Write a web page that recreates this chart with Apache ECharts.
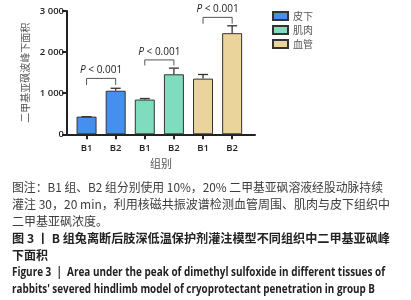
<!DOCTYPE html>
<html>
<head>
    <meta charset="utf-8"/>
    <title>二甲基亚砜峰下面积</title>
    <script src="https://cdn.jsdelivr.net/npm/echarts@6/dist/echarts.min.js"></script>
    <style>
        body { margin: 0; background: #fff; }
        #wrap { position: relative; width: 411px; height: 300px; overflow: hidden; }
        #echart1 { position: absolute; left: 0; top: 0; width: 411px; height: 300px; }
        #note { position: absolute; left: 12px; top: 178px; font-family: "Noto Sans CJK SC"; font-size: 12px; line-height: 17px; color: #3c3c3c; }
        #note div { white-space: nowrap; transform-origin: 0 50%; width: max-content; }
        .t { color: #222; font-weight: bold; }
        .en { color: #222; font-weight: bold; font-family: "Open Sans"; font-size: 12.5px; }
    </style>
</head>
<body>
<div id="wrap">
    <div id="echart1"></div>
    <div id="note">
        <div data-w="371">图注：B1 组、B2 组分别使用 10%，20% 二甲基亚砜溶液经股动脉持续</div>
        <div data-w="378">灌注 30，20 min，利用核磁共振波谱检测血管周围、肌肉与皮下组织中</div>
        <div>二甲基亚砜浓度。</div>
        <div class="t" data-w="378">图 3 丨 B 组兔离断后肢深低温保护剂灌注模型不同组织中二甲基亚砜峰</div>
        <div class="t">下面积</div>
        <div class="en" data-w="373">Figure 3&nbsp; |&nbsp; Area under the peak of dimethyl sulfoxide in different tissues of</div>
        <div class="en" data-w="363">rabbits' severed hindlimb model of cryoprotectant penetration in group B</div>
    </div>
</div>
<script>
    // 数据
    var categories = ['B1', 'B2', 'B1', 'B2', 'B1', 'B2'];
    var groupNames = ['皮下', '肌肉', '血管'];
    var groupColors = ['#4590ee', '#7fdcbf', '#ebd49c'];
    var meanValues = [430, 1060, 845, 1460, 1355, 2460];
    var errValues = [0, 60, 25, 150, 100, 180];
    var yTicks = [0, 1000, 2000, 3000];
    var pLabels = ['P < 0.001', 'P < 0.001', 'P < 0.001'];
    var bracketPairs = [[0, 1], [2, 3], [4, 5]];
    var bracketTop = [1360, 1810, 2845];
    var bracketLeg = [1200, 1675, 2690];

    // 图注每行压缩到原图宽度
    document.querySelectorAll('#note div[data-w]').forEach(function (el) {
        var w = el.getBoundingClientRect().width;
        el.style.transform = 'scaleX(' + (Number(el.getAttribute('data-w')) / w) + ')';
    });

    var barSeries = groupNames.map(function (name, g) {
        return {
            name: name,
            type: 'bar',
            xAxisIndex: 1,
            yAxisIndex: 1,
            barWidth: 20,
            barGap: '-100%',
            itemStyle: { color: groupColors[g], borderColor: '#333', borderWidth: 1 },
            data: meanValues.map(function (v, i) {
                return Math.floor(i / 2) === g ? v : null;
            })
        };
    });

    var errData = meanValues.map(function (v, i) { return [i, v, errValues[i]]; });
    var bracketData = bracketPairs.map(function (p, k) {
        return [p[0], p[1], bracketTop[k], bracketLeg[k], k];
    });

    var tickFont = { fontFamily: 'Open Sans', fontSize: 9.5, fontWeight: 600, color: '#222' };

    var Myechart1 = echarts.init(document.getElementById('echart1'));
    var option1 = {
        animation: false,
        legend: {
            orient: 'vertical',
            left: 272,
            top: 11,
            padding: 0,
            itemWidth: 15,
            itemHeight: 8,
            itemGap: 4,
            icon: 'rect',
            textStyle: { fontFamily: 'Noto Sans CJK SC', fontSize: 10, color: '#555' },
            data: groupNames
        },
        grid: [
            { left: 67, right: 156, top: 11, bottom: 165.7 },
            { left: 72, right: 164.3, top: 11, bottom: 165.7 }
        ],
        xAxis: [{
            type: 'value',
            gridIndex: 0,
            min: 0,
            max: 1,
            name: '组别',
            nameLocation: 'middle',
            nameGap: 24,
            nameTextStyle: { fontFamily: 'Noto Sans CJK SC', fontSize: 11, color: '#555' },
            splitLine: { show: false },
            axisTick: { show: false },
            axisLabel: { show: false },
            axisLine: { show: true, lineStyle: { color: '#222', width: 2 } }
        }, {
            type: 'category',
            gridIndex: 1,
            data: categories,
            axisLine: { show: false },
            axisTick: { show: true, alignWithLabel: true, length: 5, lineStyle: { color: '#222', width: 2 } },
            axisLabel: Object.assign({ margin: 9 }, tickFont)
        }],
        yAxis: [{
            type: 'value',
            gridIndex: 0,
            min: 0,
            max: 3000,
            interval: 1000,
            name: '二甲基亚砜波峰下面积',
            nameLocation: 'middle',
            nameGap: 37,
            nameTextStyle: { fontFamily: 'Noto Sans CJK SC', fontSize: 10, color: '#555' },
            splitLine: { show: false },
            axisLine: { show: true, lineStyle: { color: '#222', width: 2 } },
            axisTick: { show: true, length: 5, lineStyle: { color: '#222', width: 2 } },
            axisLabel: Object.assign({
                margin: 3,
                formatter: function (v) {
                    return yTicks.indexOf(v) < 0 ? '' : (v >= 1000 ? Math.floor(v / 1000) + ' ' + String(v % 1000 + 1000).slice(1) : String(v));
                }
            }, tickFont)
        }, {
            type: 'value',
            gridIndex: 1,
            min: 0,
            max: 3000,
            interval: 1000,
            show: false
        }],
        series: barSeries.concat([{
            type: 'custom',
            name: 'err',
            xAxisIndex: 1,
            yAxisIndex: 1,
            clip: false,
            z: 5,
            data: errData,
            renderItem: function (params, api) {
                var top = api.coord([api.value(0), api.value(1) + api.value(2)]);
                var base = api.coord([api.value(0), api.value(1)]);
                var st = { stroke: '#333', lineWidth: 1.3 };
                return {
                    type: 'group',
                    children: [
                        { type: 'line', shape: { x1: base[0], y1: base[1], x2: top[0], y2: top[1] }, style: st },
                        { type: 'line', shape: { x1: top[0] - 5, y1: top[1], x2: top[0] + 5, y2: top[1] }, style: st }
                    ]
                };
            }
        }, {
            type: 'custom',
            name: 'p',
            xAxisIndex: 1,
            yAxisIndex: 1,
            clip: false,
            z: 5,
            data: bracketData,
            renderItem: function (params, api) {
                var a = api.coord([api.value(0), api.value(2)]);
                var b = api.coord([api.value(1), api.value(2)]);
                var la = api.coord([api.value(0), api.value(3)]);
                var txt = pLabels[api.value(4)];
                return {
                    type: 'group',
                    children: [
                        { type: 'polyline', shape: { points: [[a[0], la[1]], a, b, [b[0], la[1]]] }, style: { stroke: '#555', lineWidth: 1, fill: null } },
                        {
                            type: 'text',
                            style: {
                                x: (a[0] + b[0]) / 2,
                                y: a[1] - 3,
                                text: '{i|P}{n|' + txt.slice(1) + '}',
                                align: 'center',
                                verticalAlign: 'bottom',
                                rich: {
                                    i: { fontFamily: 'Open Sans', fontStyle: 'italic', fontSize: 10, fill: '#222' },
                                    n: { fontFamily: 'Open Sans', fontSize: 10, fill: '#222' }
                                }
                            }
                        }
                    ]
                };
            }
        }])
    };
    Myechart1.setOption(option1);
</script>
</body>
</html>
